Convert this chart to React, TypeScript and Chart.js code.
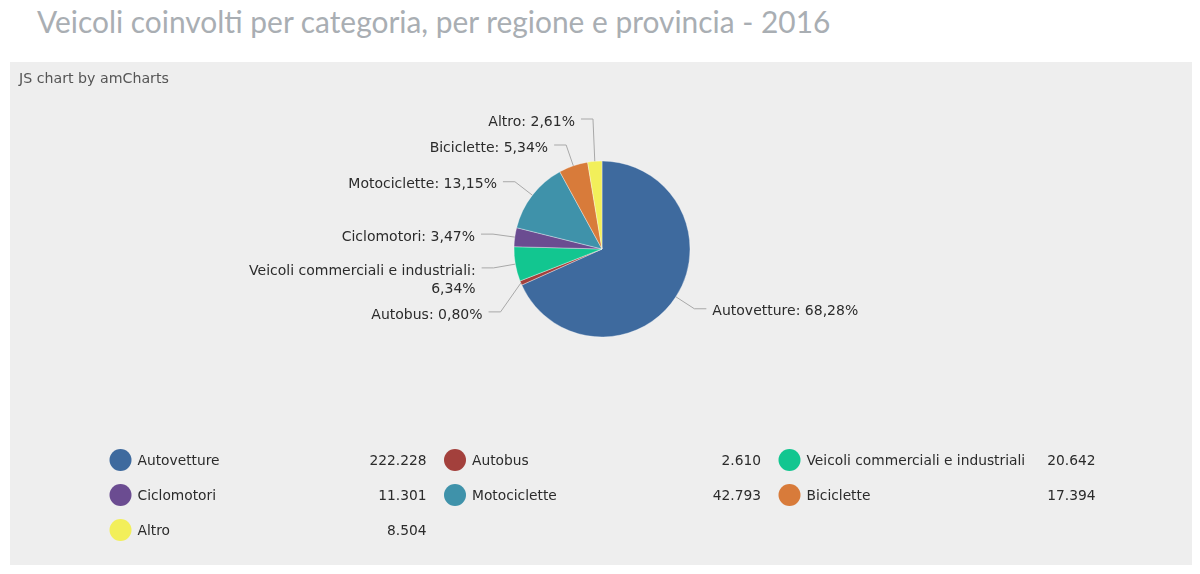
import { useEffect, useRef } from "react";
import { Chart, registerables } from "chart.js";

Chart.register(...registerables);

const categories: string[] = [
  "Autovetture",
  "Autobus",
  "Veicoli commerciali e industriali",
  "Ciclomotori",
  "Motociclette",
  "Biciclette",
  "Altro",
];
const vehicles: number[] = [222228, 2610, 20642, 11301, 42793, 17394, 8504];
const sliceColors: string[] = ["#3e6a9e", "#a3403c", "#12c690", "#6b4c91", "#3f92aa", "#d87b3a", "#f2ef5a"];

const fontFamily = '"DejaVu Sans", Verdana, sans-serif';
const LINE = 18; // line height of pie labels
const GAP = 8; // min space between stacked labels

// 222228 -> "222.228"
const formatInt = (v: number) => String(v).replace(/\B(?=(\d{3})+(?!\d))/g, ".");
// italian decimal comma
const formatPct = (v: number, total: number) => ((v / total) * 100).toFixed(2).replace(".", ",") + "%";

const pieDecor = {
  id: "pieDecor",
  afterDatasetsDraw(chart: any) {
    const ctx: CanvasRenderingContext2D = chart.ctx;
    const values = chart.data.datasets[0].data as number[];
    const labels = chart.data.labels as string[];
    const colors = chart.data.datasets[0].backgroundColor as string[];
    const total = values.reduce((a, b) => a + b, 0);
    const meta = chart.getDatasetMeta(0);

    ctx.save();

    // credit line
    ctx.font = `14.2px ${fontFamily}`;
    ctx.fillStyle = "#555";
    ctx.textAlign = "left";
    ctx.textBaseline = "middle";
    ctx.fillText("JS chart by amCharts", 9, 17);

    // slice labels
    ctx.font = `14px ${fontFamily}`;
    const items = meta.data.map((arc: any, i: number) => {
      const p = arc.getProps(["x", "y", "startAngle", "endAngle", "outerRadius"], true);
      const mid = (p.startAngle + p.endAngle) / 2;
      const cos = Math.cos(mid);
      const sin = Math.sin(mid);
      const r = p.outerRadius;
      const pct = formatPct(values[i], total);
      const full = `${labels[i]}: ${pct}`;
      const lines = ctx.measureText(full).width > 200 ? [`${labels[i]}:`, pct] : [full];
      return {
        right: cos >= 0,
        ex: p.x + r * cos,
        ey: p.y + r * sin,
        bx: p.x + (r + 22) * cos,
        by: p.y + (r + 22) * sin,
        cy: p.y,
        lines,
      };
    });

    // push overlapping labels apart, per side
    for (const side of [true, false]) {
      const group = items.filter((it: any) => it.right === side).sort((a: any, b: any) => a.by - b.by);
      const upper = group.filter((it: any) => it.by < it.cy);
      const lower = group.filter((it: any) => it.by >= it.cy);
      for (let k = upper.length - 2; k >= 0; k--) {
        const lim = upper[k + 1].by - (upper[k].lines.length * LINE + GAP);
        if (upper[k].by > lim) upper[k].by = lim;
      }
      let prev: any = upper.length ? upper[upper.length - 1] : null;
      for (const it of lower) {
        if (prev) {
          const lim = prev.by + prev.lines.length * LINE + GAP;
          if (it.by < lim) it.by = lim;
        }
        prev = it;
      }
    }

    ctx.strokeStyle = "#a8a8a8";
    ctx.lineWidth = 1;
    ctx.fillStyle = "#2b2b2b";
    for (const it of items) {
      const dir = it.right ? 1 : -1;
      ctx.beginPath();
      ctx.moveTo(it.ex, it.ey);
      ctx.lineTo(it.bx, it.by);
      ctx.lineTo(it.bx + dir * 12, it.by);
      ctx.stroke();
      ctx.textAlign = it.right ? "left" : "right";
      it.lines.forEach((ln: string, j: number) => {
        ctx.fillText(ln, it.bx + dir * 18, it.by + 3 + j * LINE);
      });
    }

    // legend: 3 columns, marker + name + right aligned value
    ctx.font = `13.8px ${fontFamily}`;
    labels.forEach((name, i) => {
      const col = i % 3;
      const row = Math.floor(i / 3);
      const mx = 110.5 + col * 334.5;
      const my = 398 + row * 35;
      ctx.fillStyle = colors[i];
      ctx.beginPath();
      ctx.arc(mx, my, 11, 0, Math.PI * 2);
      ctx.fill();
      ctx.fillStyle = "#2b2b2b";
      ctx.textAlign = "left";
      ctx.fillText(name, mx + 17, my + 1);
      ctx.textAlign = "right";
      ctx.fillText(formatInt(values[i]), mx + 306, my + 1);
    });

    ctx.restore();
  },
};

const PieChart: React.FC = () => {
  const chartRef = useRef<HTMLCanvasElement | null>(null);

  useEffect(() => {
    const myChart = new Chart(chartRef.current!, {
      type: "pie",
      data: {
        labels: categories,
        datasets: [
          {
            data: vehicles,
            backgroundColor: sliceColors,
            borderColor: "rgba(255,255,255,0.35)",
            borderWidth: 1,
          },
        ],
      },
      options: {
        animation: false,
        responsive: true,
        maintainAspectRatio: false,
        events: [],
        radius: 88,
        layout: { padding: { top: 0, bottom: 129, left: 0, right: 0 } },
        plugins: {
          legend: { display: false },
          tooltip: { enabled: false },
          title: { display: false },
        },
      } as any,
      plugins: [pieDecor],
    });

    return () => {
      myChart.destroy();
    };
  }, []);

  return (
    <div style={{ position: "relative", width: 1184, height: 503 }}>
      <canvas ref={chartRef} />
    </div>
  );
};

export default function App() {
  return (
    <div style={{ position: "relative", width: 1184, height: 558 }}>
      <div
        style={{
          position: "absolute",
          left: 29,
          top: -4.5,
          fontFamily: "Lato, sans-serif",
          fontSize: 29.9,
          lineHeight: "34px",
          color: "#a9aeb3",
          whiteSpace: "nowrap",
        }}
      >
        Veicoli coinvolti per categoria, per regione e provincia - 2016
      </div>
      <div style={{ position: "absolute", left: 2, top: 54, width: 1184, height: 503, background: "#eeeeee" }}>
        <PieChart />
      </div>
    </div>
  );
}
